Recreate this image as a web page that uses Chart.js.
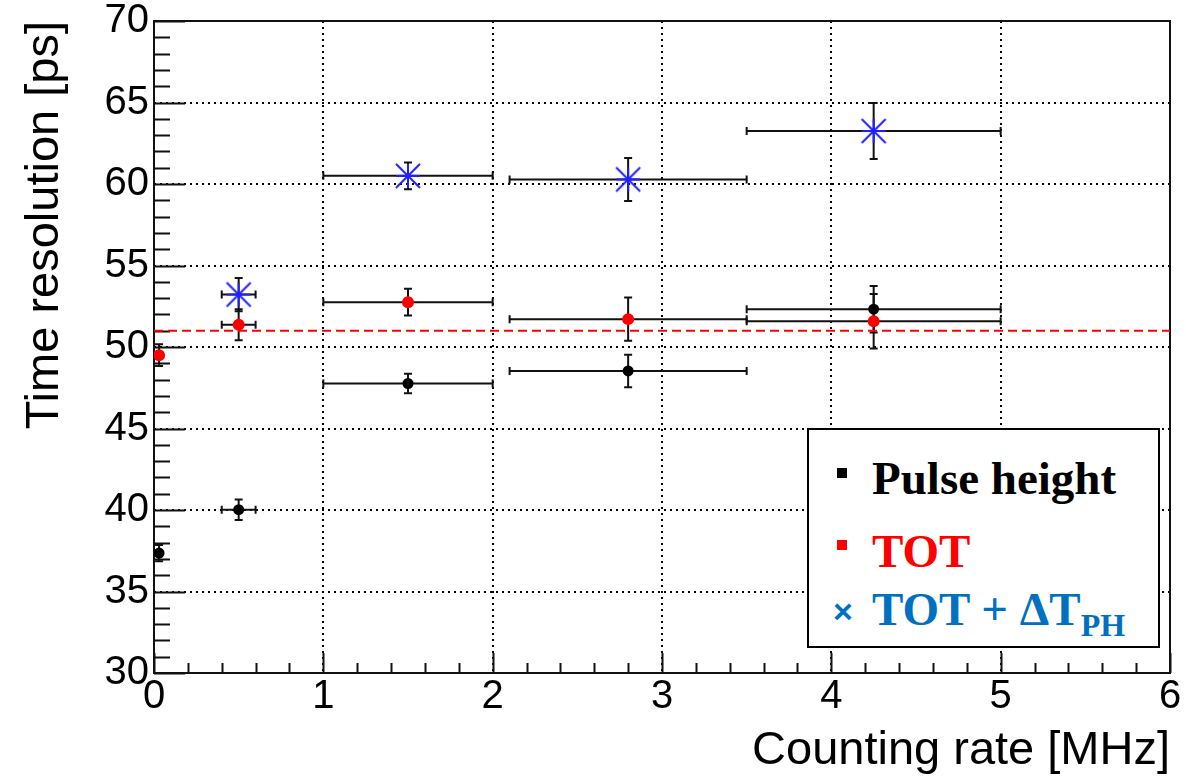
<!DOCTYPE html>
<html>
<head>
<meta charset="utf-8">
<title>Time resolution vs counting rate</title>
<script src="https://cdn.jsdelivr.net/npm/chart.js@4.4.1/dist/chart.umd.min.js"></script>
<style>
  html, body { margin: 0; padding: 0; background: #ffffff; }
  #wrap { position: relative; width: 1186px; height: 778px; }
  #plot { position: absolute; left: 0; top: 0; }
  #legend {
    position: absolute; left: 807px; top: 428px; width: 349px; height: 216px;
    border: 2px solid #000; background: #fff;
    font-family: "Liberation Serif", "Times New Roman", serif; font-weight: bold;
  }
  .mark { position: absolute; width: 10px; height: 10px; }
  .txt { position: absolute; font-size: 47px; line-height: 1; white-space: nowrap; }
  .sub { font-size: 32px; position: relative; top: 11px; }
  .cross { position: absolute; font-family: "Liberation Sans", Arial, sans-serif; font-weight: bold; font-size: 34px; line-height: 1; }
</style>
</head>
<body>
<div id="wrap">
  <canvas id="plot" width="1186" height="778"></canvas>
  <div id="legend"></div>
</div>
<script>
// Counting rate bins [MHz] and their half widths
const rateMHz    = [0.03, 0.5, 1.5, 2.8, 4.25];
const rateErrMHz = [0.0, 0.1, 0.5, 0.7, 0.75];

// Time resolution [ps] for each correction method
const pulseHeightPs    = [37.36, 40.02, 47.76, 48.53, 52.32];
const pulseHeightErrPs = [0.5, 0.63, 0.6, 1.0, 1.43];
const totPs            = [49.5, 51.36, 52.75, 51.71, 51.58];
const totErrPs         = [0.67, 0.95, 0.82, 1.33, 1.67];
const totPhPs          = [null, 53.22, 60.5, 60.28, 63.25];
const totPhErrPs       = [null, 1.02, 0.82, 1.32, 1.72];

// Average TOT resolution level [ps]
const averageTotPs = 51;

// Axis ranges and tick steps
const xRange = [0, 6];
const yRange = [30, 70];
const xMajorStep = 1, xMinorStep = 0.2;
const yMajorStep = 5, yMinorStep = 1;

// Legend entries
const legendLabels = ["Pulse height", "TOT", "TOT + \u0394T"];
const legendSubscript = "PH";

function points(xs, ys, xe, ye) {
  const out = [];
  for (let i = 0; i < xs.length; i++) {
    if (ys[i] === null) continue;
    out.push({ x: xs[i], y: ys[i], xErr: xe[i], yErr: ye[i] });
  }
  return out;
}

// Eight-armed asterisk marker
function asteriskMarker(size, color, width) {
  const c = document.createElement('canvas');
  c.width = size + 4; c.height = size + 4;
  const g = c.getContext('2d');
  const m = c.width / 2, h = size / 2;
  g.strokeStyle = color; g.lineWidth = width; g.lineCap = 'butt';
  g.beginPath();
  g.moveTo(m - h, m); g.lineTo(m + h, m);
  g.moveTo(m, m - h); g.lineTo(m, m + h);
  g.moveTo(m - h, m - h); g.lineTo(m + h, m + h);
  g.moveTo(m - h, m + h); g.lineTo(m + h, m - h);
  g.stroke();
  return c;
}

// Frame with inward major/minor ticks
const framePlugin = {
  id: 'frame',
  beforeDatasetsDraw(chart) {
    const { ctx, chartArea: a, scales: { x, y } } = chart;
    ctx.save();
    ctx.strokeStyle = '#111'; ctx.lineWidth = 2;
    ctx.strokeRect(a.left, a.top, a.right - a.left, a.bottom - a.top);
    ctx.beginPath();
    const ny = Math.round((yRange[1] - yRange[0]) / yMinorStep);
    for (let i = 0; i <= ny; i++) {
      const v = yRange[0] + i * yMinorStep;
      const py = Math.round(y.getPixelForValue(v)) + 0.5;
      const len = (Math.abs(v % yMajorStep) < 1e-9) ? 31 : 16;
      ctx.moveTo(a.left, py); ctx.lineTo(a.left + len, py);
    }
    const nx = Math.round((xRange[1] - xRange[0]) / xMinorStep);
    for (let i = 0; i <= nx; i++) {
      const v = xRange[0] + i * xMinorStep;
      const px = Math.round(x.getPixelForValue(v)) + 0.5;
      const len = (i % Math.round(xMajorStep / xMinorStep) === 0) ? 20 : 10;
      ctx.moveTo(px, a.bottom); ctx.lineTo(px, a.bottom - len);
    }
    ctx.stroke();
    ctx.restore();
  }
};

// Horizontal and vertical error bars with end caps
const errorBarPlugin = {
  id: 'errorBars',
  beforeDatasetsDraw(chart) {
    const { ctx, scales: { x, y } } = chart;
    const cap = 4;
    ctx.save();
    ctx.strokeStyle = '#111'; ctx.lineWidth = 2;
    chart.data.datasets.forEach(ds => {
      if (!ds.errorBars) return;
      ds.data.forEach(p => {
        const px = x.getPixelForValue(p.x), py = y.getPixelForValue(p.y);
        ctx.beginPath();
        if (p.xErr > 0) {
          const x1 = x.getPixelForValue(p.x - p.xErr), x2 = x.getPixelForValue(p.x + p.xErr);
          ctx.moveTo(x1, py); ctx.lineTo(x2, py);
          ctx.moveTo(x1, py - cap); ctx.lineTo(x1, py + cap);
          ctx.moveTo(x2, py - cap); ctx.lineTo(x2, py + cap);
        }
        if (p.yErr > 0) {
          const y1 = y.getPixelForValue(p.y - p.yErr), y2 = y.getPixelForValue(p.y + p.yErr);
          ctx.moveTo(px, y1); ctx.lineTo(px, y2);
          ctx.moveTo(px - cap, y1); ctx.lineTo(px + cap, y1);
          ctx.moveTo(px - cap, y2); ctx.lineTo(px + cap, y2);
        }
        ctx.stroke();
      });
    });
    ctx.restore();
  }
};

const tickFont = { family: "'Liberation Sans', Arial, sans-serif", size: 40 };
const titleFont = { family: "'Liberation Sans', Arial, sans-serif", size: 47 };

function noScalePadding(s) {
  s.paddingTop = 0; s.paddingBottom = 0; s.paddingLeft = 0; s.paddingRight = 0;
}

new Chart(document.getElementById('plot'), {
  type: 'scatter',
  data: {
    datasets: [
      {
        label: 'Average TOT',
        type: 'line',
        data: [{ x: xRange[0], y: averageTotPs }, { x: xRange[1], y: averageTotPs }],
        borderColor: '#ff0000', borderWidth: 2, borderDash: [9, 5],
        pointRadius: 0, fill: false, order: 3
      },
      {
        label: legendLabels[0],
        data: points(rateMHz, pulseHeightPs, rateErrMHz, pulseHeightErrPs),
        errorBars: true,
        pointStyle: 'circle', pointRadius: 5.5,
        backgroundColor: '#000', borderColor: '#000', borderWidth: 0, order: 2
      },
      {
        label: legendLabels[1],
        data: points(rateMHz, totPs, rateErrMHz, totErrPs),
        errorBars: true,
        pointStyle: 'circle', pointRadius: 6,
        backgroundColor: '#ff0000', borderColor: '#ff0000', borderWidth: 0, order: 1
      },
      {
        label: legendLabels[2] + legendSubscript,
        data: points(rateMHz, totPhPs, rateErrMHz, totPhErrPs),
        errorBars: true,
        pointStyle: asteriskMarker(24, '#1f1fff', 2), pointRadius: 12,
        backgroundColor: '#1f1fff', borderColor: '#1f1fff', order: 0
      }
    ]
  },
  options: {
    responsive: false,
    animation: false,
    events: [],
    layout: { padding: { left: 0, right: 16, top: 21, bottom: 0 } },
    plugins: { legend: { display: false }, tooltip: { enabled: false } },
    scales: {
      x: {
        type: 'linear', min: xRange[0], max: xRange[1],
        afterFit(s) { s.height = 105; noScalePadding(s); },
        ticks: { stepSize: xMajorStep, color: '#000', font: tickFont, padding: 0, maxRotation: 0 },
        grid: { color: '#000', lineWidth: 2, drawTicks: false },
        border: { display: false, dash: [2, 4] },
        title: { display: true, text: 'Counting rate [MHz]', align: 'end', color: '#000', font: titleFont, padding: { top: 0, bottom: -1 } }
      },
      y: {
        type: 'linear', min: yRange[0], max: yRange[1],
        afterFit(s) { s.width = 154; noScalePadding(s); },
        ticks: { stepSize: yMajorStep, color: '#000', font: tickFont, padding: 5 },
        grid: { color: '#000', lineWidth: 2, drawTicks: false },
        border: { display: false, dash: [2, 4] },
        title: { display: true, text: 'Time resolution [ps]', align: 'end', color: '#000', font: titleFont, padding: { top: 17, bottom: 0 } }
      }
    }
  },
  plugins: [framePlugin, errorBarPlugin]
});

// Legend box
(function buildLegend() {
  const box = document.getElementById('legend');
  const rows = [
    { color: '#000000', text: legendLabels[0], baseline: 64, mark: 'square', markTop: 38 },
    { color: '#ff0000', text: legendLabels[1], baseline: 137, mark: 'square', markTop: 110 },
    { color: '#0070c0', text: legendLabels[2], baseline: 195, mark: 'cross', markTop: 172, sub: legendSubscript }
  ];
  rows.forEach(r => {
    const m = document.createElement('div');
    if (r.mark === 'square') {
      m.className = 'mark';
      m.style.left = '28px'; m.style.top = r.markTop + 'px'; m.style.background = r.color;
    } else {
      m.className = 'cross';
      m.textContent = '\u00d7';
      m.style.left = '24px'; m.style.top = (r.markTop - 8) + 'px'; m.style.color = r.color;
    }
    box.appendChild(m);
    const t = document.createElement('div');
    t.className = 'txt';
    t.style.left = '63px';
    t.style.top = (r.baseline - 39.4) + 'px';
    t.style.color = r.color;
    t.textContent = r.text;
    if (r.sub) {
      const s = document.createElement('span');
      s.className = 'sub';
      s.textContent = r.sub;
      t.appendChild(s);
    }
    box.appendChild(t);
  });
})();
</script>
</body>
</html>
